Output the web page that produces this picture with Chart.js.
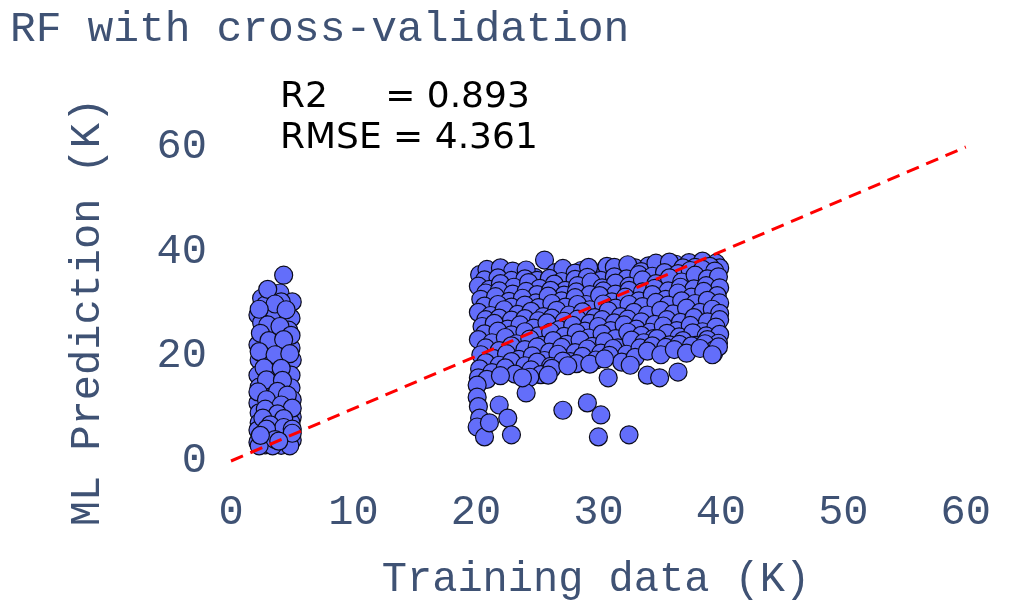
<!DOCTYPE html>
<html>
<head>
<meta charset="utf-8">
<title>RF with cross-validation</title>
<script src="https://cdn.jsdelivr.net/npm/chart.js@4.4.0/dist/chart.umd.min.js"></script>
<style>
    html, body { margin: 0; padding: 0; background: #ffffff; }
    canvas { display: block; }
</style>
</head>
<body>
<canvas id="rfChart" width="1018" height="603"></canvas>
<script>
// Chart texts
const chartTitle = 'RF with cross-validation';
const xAxisTitle = 'Training data (K)';
const yAxisTitle = 'ML Prediction (K)';
const scoreLines = ['R2     = 0.893', 'RMSE = 4.361'];

// Axis ticks
const xTicks = [0, 10, 20, 30, 40, 50, 60];
const yTicks = [0, 20, 40, 60];

// Ideal fit line (prediction = training)
const idealLine = [[0, 0], [60, 60]];

// Low temperature group (training ~2-5 K)
const lowGroup = [
    [4.3, 35.5], [2.5, 31.1], [4.0, 32.1], [5.0, 30.4], [2.8, 29.8], [4.1, 30.4],
    [2.2, 27.9], [4.0, 27.9], [3.3, 27.3], [4.9, 27.3], [2.5, 26.4], [4.7, 25.0],
    [3.4, 24.6], [2.2, 22.2], [2.8, 20.8], [3.9, 21.8], [4.9, 21.6], [4.5, 19.9],
    [2.3, 19.3], [3.3, 18.9], [5.0, 19.3], [2.2, 16.4], [3.3, 16.8], [4.9, 16.4],
    [2.3, 14.1], [3.3, 14.5], [4.9, 14.0], [4.0, 12.2], [2.5, 12.2], [5.0, 11.7],
    [2.2, 11.1], [3.3, 10.3], [2.3, 9.2], [3.1, 8.4], [4.7, 9.2], [5.0, 8.4],
    [2.3, 7.3], [3.9, 7.3], [4.9, 7.3], [2.2, 5.9], [3.3, 5.9], [4.7, 5.9],
    [2.5, 4.4], [3.1, 4.6], [4.7, 4.6], [5.0, 4.0], [2.2, 3.6], [3.6, 3.4],
    [4.7, 3.4], [2.8, 3.1], [4.1, 3.0], [3.4, 2.9], [4.4, 4.2], [2.6, 5.2],
    [3.8, 5.0], [4.8, 2.9], [2.3, 2.9],
    [3.0, 32.8], [3.6, 30.0], [2.3, 29.0], [4.5, 28.9], [3.0, 26.0], [4.0, 25.7],
    [2.4, 24.4], [4.9, 24.0], [3.1, 23.0], [4.3, 23.2], [2.3, 20.9], [3.6, 20.3],
    [4.8, 20.5], [2.7, 17.8], [4.1, 17.7], [2.9, 15.5], [4.2, 15.4], [2.2, 13.2],
    [3.8, 13.3], [4.6, 12.6], [2.9, 11.7], [4.1, 10.7], [5.0, 10.1], [2.8, 9.9],
    [3.8, 9.0], [2.6, 8.2], [4.3, 8.1], [3.2, 6.9], [4.3, 6.4], [5.0, 6.1],
    [2.9, 6.1], [3.6, 4.1], [2.4, 4.9], [5.0, 5.3], [3.9, 3.8]
];

// High temperature group (training ~20-40 K)
const highGroup = [
    [20.3, 35.6], [21.5, 36.2], [22.4, 35.4], [23.6, 35.9], [24.8, 35.1], [25.6, 38.4],
    [26.5, 36.0], [27.7, 35.3], [28.6, 36.4], [29.8, 35.8], [30.7, 37.2], [31.9, 36.1],
    [33.0, 36.9], [34.1, 37.3], [35.2, 36.6], [36.3, 37.6], [37.4, 37.9], [38.5, 38.2],
    [39.6, 37.8], [39.9, 36.9],
    [20.9, 36.6], [22.0, 36.9], [23.0, 36.3], [24.1, 36.5], [27.1, 36.8], [28.1, 35.9],
    [29.2, 37.0], [31.3, 37.0], [32.4, 37.5], [33.5, 36.2], [34.7, 37.8], [35.8, 38.0],
    [36.9, 36.9], [37.9, 37.0], [39.1, 37.2],
    [20.7, 34.6], [21.8, 35.0], [22.9, 34.5], [24.0, 34.8], [25.0, 34.5], [26.0, 34.9],
    [27.0, 34.3], [28.1, 34.7], [29.1, 35.1], [30.2, 34.5], [31.3, 35.2], [32.3, 34.8],
    [33.3, 35.6], [34.4, 35.3], [35.4, 36.0], [36.5, 35.8], [37.5, 36.4], [38.5, 36.6],
    [39.5, 36.3],
    [20.2, 33.4], [21.1, 32.8], [22.0, 33.9], [23.1, 33.2], [24.3, 34.1], [25.2, 33.0],
    [26.4, 33.8], [27.3, 32.6], [28.3, 33.5], [29.4, 34.2], [30.3, 33.1], [31.4, 34.0],
    [32.5, 33.4], [33.6, 34.6], [34.7, 33.9], [35.8, 35.0], [36.8, 34.2], [37.9, 35.5],
    [38.9, 34.8], [39.8, 35.2],
    [20.8, 32.1], [21.9, 32.5], [23.0, 31.9], [24.1, 32.4], [25.0, 31.8], [26.1, 32.6],
    [27.2, 31.7], [28.2, 32.3], [29.3, 31.8], [30.4, 32.5], [31.4, 31.9], [32.5, 32.6],
    [33.6, 32.3], [34.6, 33.0], [35.7, 32.5], [36.7, 33.2], [37.8, 32.9], [38.8, 33.5],
    [39.9, 33.1],
    [20.4, 30.9], [21.6, 31.4], [22.7, 30.5], [23.8, 31.1], [24.9, 30.2], [25.9, 31.5],
    [27.0, 30.6], [28.1, 31.2], [29.0, 29.9], [30.1, 31.6], [31.1, 30.4], [32.2, 31.3],
    [33.3, 30.6], [34.4, 31.8], [35.5, 30.9], [36.5, 32.1], [37.6, 31.3], [38.6, 32.4],
    [39.7, 31.6],
    [20.7, 29.6], [21.8, 29.9], [22.9, 29.4], [24.0, 29.8], [25.1, 29.3], [26.2, 30.1],
    [27.3, 29.4], [28.3, 29.9], [29.3, 28.9], [30.4, 30.0], [31.4, 29.2], [32.5, 29.9],
    [33.6, 29.5], [34.7, 30.3], [35.7, 29.8], [36.8, 30.6], [37.9, 30.1], [38.9, 30.7],
    [39.9, 30.2],
    [20.2, 28.4], [21.2, 27.8], [22.3, 28.9], [23.4, 28.0], [24.5, 28.6], [25.5, 27.6],
    [26.6, 28.8], [27.6, 27.9], [28.7, 28.5], [29.7, 27.4], [30.8, 28.7], [31.8, 27.6],
    [32.9, 28.4], [34.0, 27.9], [35.1, 28.8], [36.1, 28.1], [37.2, 29.2], [38.3, 28.4],
    [39.3, 29.0], [39.9, 28.2],
    [20.8, 27.0], [21.9, 27.3], [22.9, 26.9], [24.0, 27.2], [25.1, 26.8], [26.2, 27.3],
    [27.2, 26.7], [28.3, 27.1], [29.3, 26.3], [30.3, 27.0], [31.3, 26.4], [32.4, 27.1],
    [33.5, 26.6], [34.6, 26.1], [35.6, 27.0], [36.7, 26.5], [37.8, 27.4], [38.9, 26.6],
    [39.9, 27.0],
    [20.5, 25.7], [21.5, 26.3], [22.6, 25.2], [23.6, 26.0], [24.7, 25.4], [25.8, 26.4],
    [26.8, 25.1], [27.9, 25.9], [28.9, 24.8], [30.0, 25.7], [31.0, 24.9], [32.1, 26.0],
    [33.1, 25.2], [34.2, 24.6], [35.3, 25.8], [36.4, 24.9], [37.5, 25.9], [38.5, 24.7],
    [39.6, 25.6],
    [20.7, 24.3], [21.8, 24.8], [22.9, 24.1], [24.0, 24.7], [25.1, 23.9], [26.1, 24.6],
    [27.2, 23.8], [28.2, 24.5], [29.2, 23.5], [30.3, 24.3], [31.4, 23.4], [32.4, 24.6],
    [33.5, 24.0], [34.5, 23.4], [35.6, 24.4], [36.6, 23.7], [37.7, 24.5], [38.8, 23.9],
    [39.9, 24.2],
    [20.2, 23.2], [21.3, 22.6], [22.4, 23.6], [23.3, 22.4], [24.4, 23.3], [25.4, 22.1],
    [26.3, 23.0], [27.4, 22.3], [28.5, 23.1], [29.5, 21.9], [30.5, 22.8], [31.6, 21.6],
    [32.7, 23.1], [33.7, 22.6], [34.8, 23.4], [35.8, 22.2], [36.9, 23.0], [37.9, 22.1],
    [38.9, 23.2], [39.8, 22.5],
    [20.8, 21.6], [21.9, 21.1], [22.9, 22.0], [24.0, 21.3], [25.0, 21.8], [26.0, 20.8],
    [27.0, 21.7], [28.1, 20.7], [29.1, 21.4], [30.2, 20.6], [31.2, 21.5], [32.3, 20.4],
    [33.4, 21.6], [34.4, 22.0], [35.5, 21.7], [36.6, 22.3], [37.6, 22.0], [38.7, 22.4],
    [39.5, 21.3],
    [20.4, 20.3], [21.4, 19.6], [22.5, 20.5], [23.5, 19.4], [24.6, 20.1], [25.6, 19.2],
    [26.7, 20.4], [27.7, 19.0], [28.7, 20.0], [29.8, 19.3], [30.9, 20.2], [31.9, 18.9],
    [33.0, 19.8], [34.0, 21.0], [35.1, 20.3], [36.2, 21.3], [37.2, 20.6], [38.3, 21.5],
    [39.4, 20.5], [39.8, 21.8],
    [20.8, 18.8], [21.9, 18.3], [22.9, 19.0], [24.0, 18.2], [25.0, 18.9], [26.1, 18.1],
    [27.1, 19.1], [28.2, 18.6], [29.3, 18.5], [30.5, 19.5], [32.6, 18.3],
    [20.3, 17.6], [21.3, 16.9], [22.4, 17.8], [23.2, 16.6], [24.5, 17.4], [25.3, 16.5],
    [26.2, 17.7], [27.5, 18.2], [20.2, 15.9], [20.9, 15.6], [22.0, 16.3], [24.4, 16.0],
    // lower outliers
    [20.1, 14.5], [20.1, 12.2], [20.2, 10.4], [20.3, 8.2], [20.1, 6.5], [20.7, 4.6],
    [21.1, 7.3], [21.9, 10.7], [22.6, 8.2], [22.9, 5.0], [24.1, 13.0], [23.8, 15.9],
    [25.9, 16.4], [27.1, 9.7], [29.1, 11.1], [30.2, 8.8], [30.0, 4.6], [32.5, 5.0],
    [30.8, 15.9], [34.0, 16.4], [35.0, 15.9], [36.5, 17.0], [39.3, 20.3]
];

const textColor = '#3f5274';
const monoFont = '"Liberation Mono", "Courier New", monospace';

const toPoints = arr => arr.map(p => ({ x: p[0], y: p[1] }));

// Draws the axis titles and the score box
const textPlugin = {
    id: 'textPlugin',
    afterDraw(chart) {
        const ctx = chart.ctx;
        ctx.save();
        ctx.fillStyle = textColor;
        ctx.font = '42px ' + monoFont;
        ctx.textAlign = 'center';
        ctx.textBaseline = 'middle';
        ctx.fillText(xAxisTitle, 596, 580);

        ctx.translate(88, 312);
        ctx.rotate(-Math.PI / 2);
        ctx.fillText(yAxisTitle, 0, 0);
        ctx.restore();

        ctx.save();
        ctx.fillStyle = '#000000';
        ctx.font = '36px "DejaVu Sans"';
        ctx.textAlign = 'left';
        ctx.textBaseline = 'alphabetic';
        ctx.fillText(scoreLines[0], 280, 107);
        ctx.fillText(scoreLines[1], 280, 148);
        ctx.restore();
    }
};

const ctx = document.getElementById('rfChart').getContext('2d');
const chart = new Chart(ctx, {
    type: 'scatter',
    data: {
        datasets: [
            {
                type: 'line',
                data: toPoints(idealLine),
                borderColor: '#ff0000',
                borderWidth: 3,
                borderDash: [13, 8],
                pointRadius: 0,
                fill: false,
                clip: false,
                order: 0
            },
            {
                data: toPoints(lowGroup),
                backgroundColor: '#636efa',
                borderColor: '#0b0b1a',
                borderWidth: 1.2,
                pointRadius: 9,
                clip: false,
                order: 1
            },
            {
                data: toPoints(highGroup),
                backgroundColor: '#636efa',
                borderColor: '#0b0b1a',
                borderWidth: 1.2,
                pointRadius: 9,
                clip: false,
                order: 1
            }
        ]
    },
    options: {
        responsive: false,
        animation: false,
        layout: { padding: { left: 10, right: 29, top: 0, bottom: 0 } },
        plugins: {
            legend: { display: false },
            tooltip: { enabled: false },
            title: {
                display: true,
                text: chartTitle,
                align: 'start',
                color: textColor,
                font: { family: monoFont, size: 43, weight: 'normal' },
                padding: { top: 4, bottom: 91.4 }
            }
        },
        scales: {
            x: {
                type: 'linear',
                min: 0,
                max: 60,
                grid: { display: false, drawTicks: false },
                border: { display: false },
                afterBuildTicks: scale => { scale.ticks = xTicks.map(v => ({ value: v })); },
                afterFit: scale => { scale.height = 142; },
                ticks: {
                    color: textColor,
                    padding: 27,
                    font: { family: monoFont, size: 42 }
                }
            },
            y: {
                type: 'linear',
                min: 0,
                max: 60,
                grid: { display: false, drawTicks: false },
                border: { display: false },
                afterBuildTicks: scale => { scale.ticks = yTicks.map(v => ({ value: v })); },
                afterFit: scale => { scale.width = 221; },
                ticks: {
                    color: textColor,
                    padding: 24,
                    font: { family: monoFont, size: 42 }
                }
            }
        }
    },
    plugins: [textPlugin]
});
</script>
</body>
</html>
